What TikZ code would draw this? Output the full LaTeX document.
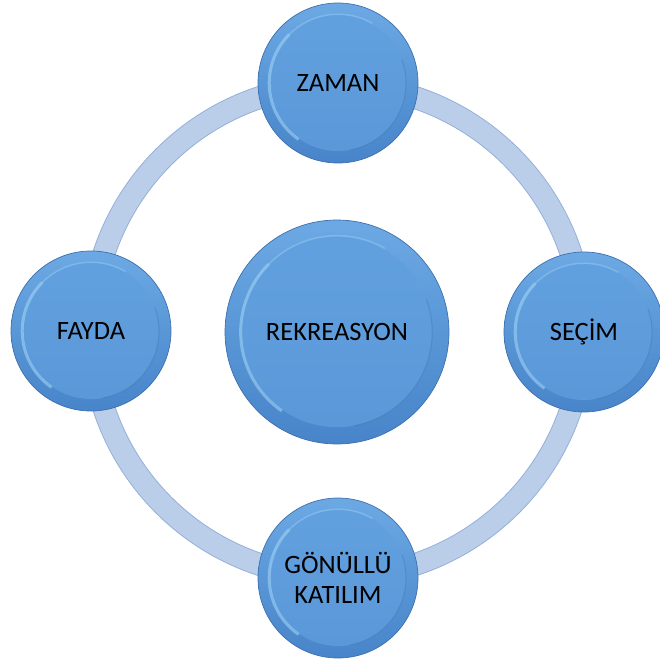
\documentclass[tikz,border=0pt]{standalone}
\usepackage{fontspec}
\setmainfont{Carlito}
\definecolor{ringfill}{HTML}{BACEEA}
\definecolor{ringedge}{HTML}{94AFD8}
\definecolor{rimtop}{HTML}{6CA9E4}
\definecolor{rimbot}{HTML}{4784C9}
\definecolor{edgeblue}{HTML}{3E70AC}
\definecolor{inTop}{HTML}{62A1E0}
\definecolor{inBot}{HTML}{5A97D8}
\definecolor{hilite}{HTML}{A8D8F8}
\tikzset{
  bubble/.style={circle, inner sep=0pt, draw=edgeblue, line width=0.7pt,
    top color=rimtop, bottom color=rimbot, minimum size={2*#1 pt},
    align=center, text=black, font=\fontsize{26.5}{30}\selectfont,
    path picture={
      \shade[top color=inTop, bottom color=inBot]
        (path picture bounding box.center) circle[radius={0.85*#1 pt}];
      \draw[hilite, line width=3pt, opacity=0.55]
        ([shift={(135:{0.86*#1 pt})}]path picture bounding box.center)
        arc[start angle=135, end angle=235, radius={0.86*#1 pt}];
      \draw[hilite, line width=1.5pt, opacity=0.35]
        ([shift={(60:{0.86*#1 pt})}]path picture bounding box.center)
        arc[start angle=60, end angle=135, radius={0.86*#1 pt}];
      \draw[rimbot!85!black, line width=1pt, opacity=0.35]
        ([shift={(-80:{0.85*#1 pt})}]path picture bounding box.center)
        arc[start angle=-80, end angle=20, radius={0.85*#1 pt}];
    }},
  ringline/.style={line width=22pt, draw=ringfill},
  ringborder/.style={line width=0.8pt, draw=ringedge}
}
\begin{document}
\begin{tikzpicture}[x=1pt,y=-1pt]
\useasboundingbox (0,0) rectangle (659,663);
\coordinate (hub) at (337.5,331);
\draw[ringline] (hub) circle[radius=246];
\draw[ringborder] (hub) circle[radius=257];
\draw[ringborder] (hub) circle[radius=235];
\node[bubble=112] (rek) at (337,332) {REKREASYON};
\node[bubble=80] (zaman) at (338,83) {ZAMAN};
\node[bubble=80] (fayda) at (91,331) {FAYDA};
\node[bubble=80] (secim) at (584,332) {SEÇİM};
\node[bubble=80] (gonullu) at (338,578) {GÖNÜLLÜ\\KATILIM};
\end{tikzpicture}
\end{document}
